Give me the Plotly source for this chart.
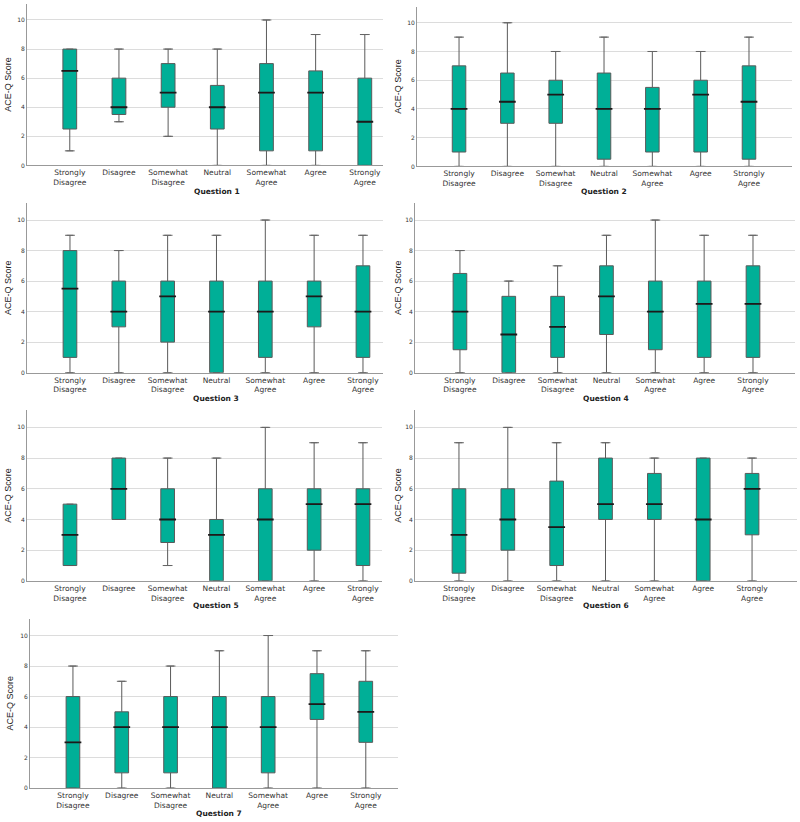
import plotly.graph_objects as go

categories = ["Strongly<br>Disagree", "Disagree", "Somewhat<br>Disagree", "Neutral",
              "Somewhat<br>Agree", "Agree", "Strongly<br>Agree"]

# per question: [min, q1, median, q3, max] for each category
q1_stats = [[1, 2.5, 6.5, 8, 8], [3, 3.5, 4, 6, 8], [2, 4, 5, 7, 8], [0, 2.5, 4, 5.5, 8],
            [0, 1, 5, 7, 10], [0, 1, 5, 6.5, 9], [0, 0, 3, 6, 9]]
q2_stats = [[0, 1, 4, 7, 9], [0, 3, 4.5, 6.5, 10], [0, 3, 5, 6, 8], [0, 0.5, 4, 6.5, 9],
            [0, 1, 4, 5.5, 8], [0, 1, 5, 6, 8], [0, 0.5, 4.5, 7, 9]]
q3_stats = [[0, 1, 5.5, 8, 9], [0, 3, 4, 6, 8], [0, 2, 5, 6, 9], [0, 0, 4, 6, 9],
            [0, 1, 4, 6, 10], [0, 3, 5, 6, 9], [0, 1, 4, 7, 9]]
q4_stats = [[0, 1.5, 4, 6.5, 8], [0, 0, 2.5, 5, 6], [0, 1, 3, 5, 7], [0, 2.5, 5, 7, 9],
            [0, 1.5, 4, 6, 10], [0, 1, 4.5, 6, 9], [0, 1, 4.5, 7, 9]]
q5_stats = [[1, 1, 3, 5, 5], [4, 4, 6, 8, 8], [1, 2.5, 4, 6, 8], [0, 0, 3, 4, 8],
            [0, 0, 4, 6, 10], [0, 2, 5, 6, 9], [0, 1, 5, 6, 9]]
q6_stats = [[0, 0.5, 3, 6, 9], [0, 2, 4, 6, 10], [0, 1, 3.5, 6.5, 9], [0, 4, 5, 8, 9],
            [0, 4, 5, 7, 8], [0, 0, 4, 8, 8], [0, 3, 6, 7, 8]]
q7_stats = [[0, 0, 3, 6, 8], [0, 1, 4, 5, 7], [0, 1, 4, 6, 8], [0, 0, 4, 6, 9],
            [0, 1, 4, 6, 10], [0, 4.5, 5.5, 7.5, 9], [0, 3, 5, 7, 9]]

questions = ["Question 1", "Question 2", "Question 3", "Question 4",
             "Question 5", "Question 6", "Question 7"]
all_stats = [q1_stats, q2_stats, q3_stats, q4_stats, q5_stats, q6_stats, q7_stats]

# layout (pixel-derived) per panel: x domain, y domain, x range
W, H = 800, 822
panels = [
    dict(x=(27, 383), y=(166, 4), xr=(-0.87, 6.37)),
    dict(x=(417, 792), y=(167, 7), xr=(-0.87, 6.89)),
    dict(x=(27, 383), y=(374, 204), xr=(-0.88, 6.41)),
    dict(x=(415, 795), y=(374, 204), xr=(-0.92, 6.86)),
    dict(x=(27, 382), y=(583, 412), xr=(-0.88, 6.39)),
    dict(x=(415, 797), y=(583, 412), xr=(-0.90, 6.92)),
    dict(x=(30, 398), y=(791, 621), xr=(-0.88, 6.66)),
]
title_y = [192, 192, 400, 400, 608, 608, 816]

FILL = "#00AF97"
EDGE = "#5a5a5a"

fig = go.Figure()
layout = dict(width=W, height=H, margin=dict(l=0, r=0, t=0, b=0),
              paper_bgcolor="white", plot_bgcolor="white", showlegend=False,
              font=dict(family="DejaVu Sans", color="#333"))
annotations = []

for i, (stats, qname, p) in enumerate(zip(all_stats, questions, panels)):
    n = i + 1
    xa = "x" if n == 1 else f"x{n}"
    ya = "y" if n == 1 else f"y{n}"
    mins = [s[0] for s in stats]
    q1s = [s[1] for s in stats]
    meds = [s[2] for s in stats]
    q3s = [s[3] for s in stats]
    maxs = [s[4] for s in stats]
    fig.add_trace(go.Box(
        x=categories, q1=q1s, median=meds, q3=q3s, lowerfence=mins, upperfence=maxs,
        boxpoints=False, width=0.28, fillcolor=FILL,
        line=dict(color=EDGE, width=1), xaxis=xa, yaxis=ya, hoverinfo="skip"))
    # whisker caps
    cx, cy = [], []
    for c, lo, a, b, hi in zip(categories, mins, q1s, q3s, maxs):
        if lo < a:
            cx.append(c); cy.append(lo)
        if hi > b:
            cx.append(c); cy.append(hi)
    fig.add_trace(go.Scatter(
        x=cx, y=cy, mode="markers", xaxis=xa, yaxis=ya, hoverinfo="skip",
        marker=dict(symbol="line-ew", size=7, line=dict(color="#666", width=1))))
    # median lines
    fig.add_trace(go.Scatter(
        x=categories, y=meds, mode="markers", xaxis=xa, yaxis=ya, hoverinfo="skip",
        marker=dict(symbol="line-ew", size=12, line=dict(color="#1a1a1a", width=1.8))))

    xd = [p["x"][0] / W, p["x"][1] / W]
    yd = [(H - p["y"][0]) / H, (H - p["y"][1]) / H]
    layout["xaxis" if n == 1 else f"xaxis{n}"] = dict(
        domain=xd, anchor=ya, type="category", range=list(p["xr"]),
        showgrid=False, showline=True, linecolor="#999", linewidth=1,
        ticks="", tickfont=dict(size=7.5, color="#333", family="DejaVu Sans"),
        tickangle=0, fixedrange=True, categoryorder="array", categoryarray=categories)
    layout["yaxis" if n == 1 else f"yaxis{n}"] = dict(
        domain=yd, anchor=xa, range=[0, 11.1], tickvals=[0, 2, 4, 6, 8, 10],
        showgrid=True, gridcolor="#dcdcdc", gridwidth=1, zeroline=False,
        showline=True, linecolor="#999", linewidth=1, ticks="",
        tickfont=dict(size=6, color="#333"), fixedrange=True)
    annotations.append(dict(
        text=f"<b>{qname}</b>", xref=xa, x=3, yref="paper", y=(H - title_y[i]) / H,
        showarrow=False, xanchor="center", yanchor="middle",
        font=dict(size=7.5, color="#222", family="DejaVu Sans")))
    ytx = 8 if p["x"][0] < 100 else 398
    if n == 7:
        ytx = 10
    annotations.append(dict(
        text="ACE-Q Score", xref="paper", x=ytx / W, yref="paper",
        y=(yd[0] + yd[1]) / 2, textangle=-90, showarrow=False,
        xanchor="center", yanchor="middle",
        font=dict(size=9, color="#222", family="Liberation Sans")))

layout["annotations"] = annotations
fig.update_layout(**layout)
fig.write_html("out.html")
